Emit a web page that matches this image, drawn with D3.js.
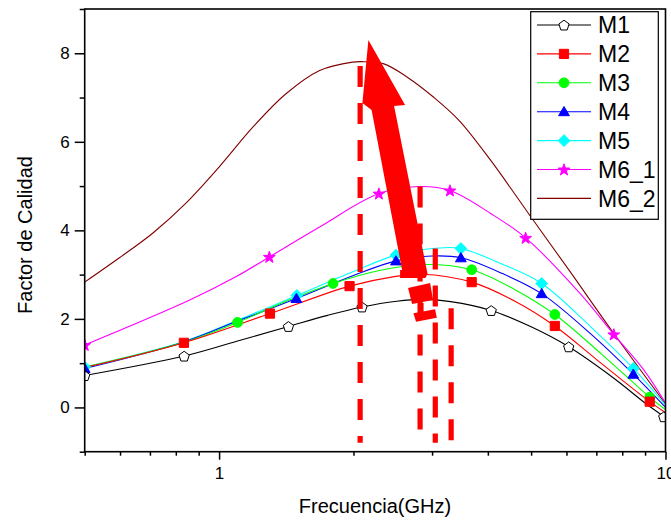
<!DOCTYPE html>
<html>
<head>
<meta charset="utf-8">
<script src="https://cdn.jsdelivr.net/npm/d3@7"></script>
<style>
  body { margin: 0; background: #fff; }
  svg { display: block; }
  text { font-family: "Liberation Sans", Arial, sans-serif; fill: #000; }
</style>
</head>
<body>
<svg id="chart" width="671" height="520"></svg>
<script>
// ---- Quality factor vs frequency (GHz), one curve per structure ----
const seriesNames = ["M1", "M2", "M3", "M4", "M5", "M6_1", "M6_2"];
const seriesColors = ["#000000", "#ff0000", "#00ff00", "#0000ff", "#00ffff", "#ff00ff", "#800000"];
const seriesSymbols = ["pentagon", "square", "circle", "triangle", "diamond", "star", "none"];

// curve samples: frequency (GHz) and quality factor
const m1Freq = [0.5, 0.835, 1.1, 1.43, 1.75, 2.09, 2.5, 2.85, 3.3, 4.07, 5.0, 6.07, 7.66, 9.0, 9.91, 10];
const m1Q    = [0.72, 1.16, 1.50, 1.83, 2.08, 2.27, 2.40, 2.44, 2.39, 2.19, 1.82, 1.37, 0.66, 0.10, -0.21, -0.25];
const m1Marks = [0, 1, 3, 5, 9, 11, 14];

const m2Freq = [0.5, 0.834, 1.30, 1.96, 2.45, 2.85, 3.68, 4.6, 5.65, 7.03, 9.22, 10];
const m2Q    = [0.90, 1.46, 2.12, 2.74, 2.95, 3.01, 2.83, 2.40, 1.84, 1.07, 0.13, -0.12];
const m2Marks = [1, 2, 3, 6, 8, 10];

const m3Freq = [0.5, 0.834, 1.10, 1.40, 1.80, 2.3, 2.9, 3.68, 4.6, 5.65, 7.2, 9.22, 10];
const m3Q    = [0.91, 1.47, 1.92, 2.38, 2.80, 3.10, 3.23, 3.11, 2.66, 2.10, 1.20, 0.23, -0.05];
const m3Marks = [2, 4, 7, 9, 11];

const m4Freq = [0.5, 0.834, 1.10, 1.49, 2.0, 2.49, 3.0, 3.48, 4.3, 5.28, 6.8, 8.47, 10];
const m4Q    = [0.88, 1.48, 1.95, 2.46, 2.98, 3.31, 3.42, 3.38, 3.03, 2.57, 1.66, 0.75, 0.0];
const m4Marks = [0, 3, 5, 7, 9, 11];

const m5Freq = [0.5, 0.834, 1.10, 1.494, 2.0, 2.49, 3.1, 3.48, 4.3, 5.28, 6.8, 8.47, 10];
const m5Q    = [0.91, 1.49, 1.97, 2.53, 3.07, 3.44, 3.60, 3.59, 3.24, 2.80, 1.82, 0.88, 0.05];
const m5Marks = [0, 3, 5, 7, 9, 11];

const m61Freq = [0.5, 0.857, 1.09, 1.296, 1.676, 2.28, 2.8, 3.29, 4.06, 4.86, 6.44, 7.66, 8.94, 10];
const m61Q    = [1.41, 2.42, 2.95, 3.40, 4.07, 4.83, 4.99, 4.90, 4.38, 3.83, 2.57, 1.65, 0.85, 0.10];
const m61Marks = [0, 3, 5, 7, 9, 11];

const m62Freq = [0.5, 0.598, 0.711, 0.844, 1.0, 1.19, 1.41, 1.68, 1.99, 2.10, 2.34, 2.64, 3.03, 3.45, 4.06, 4.91, 6.08, 7.66, 10];
const m62Q    = [2.83, 3.38, 3.94, 4.62, 5.43, 6.33, 7.08, 7.61, 7.80, 7.81, 7.76, 7.46, 7.00, 6.48, 5.58, 4.41, 3.10, 1.67, 0.08];
const m62Marks = [];

// axis ticks
const xMajorTicks = [1, 10];
const xMinorTicks = [0.5, 0.6, 0.7, 0.8, 0.9, 2, 3, 4, 5, 6, 7, 8, 9];
const yMajorTicks = [0, 2, 4, 6, 8];
const yMinorTicks = [-1, 1, 3, 5, 7, 9];

// peak guides (dashed) and the highlighting arrow, in data units
const guideFreq = [2.07, 2.82, 3.05, 3.31];
const guideTopQ = [7.71, 4.99, 3.59, 2.24];
const guideBottomQ = -0.80;
const arrowTip = [2.16, 8.30];

const freqs = [m1Freq, m2Freq, m3Freq, m4Freq, m5Freq, m61Freq, m62Freq];
const qs = [m1Q, m2Q, m3Q, m4Q, m5Q, m61Q, m62Q];
const marks = [m1Marks, m2Marks, m3Marks, m4Marks, m5Marks, m61Marks, m62Marks];

const series = seriesNames.map((name, i) => ({
  name,
  color: seriesColors[i],
  symbol: seriesSymbols[i],
  points: freqs[i].map((f, j) => ({ f, q: qs[i][j] })),
  marks: marks[i].map(j => ({ f: freqs[i][j], q: qs[i][j] }))
}));

const svg = d3.select("#chart");
const plotLeft = 84.7, plotRight = 665.5, plotTop = 9, plotBottom = 451.7;

const x = d3.scaleLog().domain([0.5, 10]).range([plotLeft, plotRight]);
const y = d3.scaleLinear().domain([-1, 9]).range([plotBottom, plotTop]);

svg.append("defs").append("clipPath").attr("id", "plotClip")
  .append("rect").attr("x", plotLeft).attr("y", plotTop)
  .attr("width", plotRight - plotLeft).attr("height", plotBottom - plotTop);

// marker shapes
function polygonPath(pts) {
  return "M" + pts.map(p => p[0].toFixed(2) + "," + p[1].toFixed(2)).join("L") + "Z";
}
function symbolPath(type) {
  if (type === "pentagon") {
    const r = 5.4;
    return polygonPath(d3.range(5).map(k => {
      const a = -Math.PI / 2 + k * 2 * Math.PI / 5;
      return [r * Math.cos(a), r * Math.sin(a) + 0.6];
    }));
  }
  if (type === "square") return polygonPath([[-4.6, -4.6], [4.6, -4.6], [4.6, 4.6], [-4.6, 4.6]]);
  if (type === "circle") return d3.symbol(d3.symbolCircle, Math.PI * 4.9 * 4.9)();
  if (type === "triangle") return polygonPath([[0, -5.2], [5.4, 4.0], [-5.4, 4.0]]);
  if (type === "diamond") return polygonPath([[0, -5.9], [5.9, 0], [0, 5.9], [-5.9, 0]]);
  if (type === "star") {
    const ro = 6.2, ri = 2.5;
    return polygonPath(d3.range(10).map(k => {
      const a = -Math.PI / 2 + k * Math.PI / 5;
      const r = k % 2 === 0 ? ro : ri;
      return [r * Math.cos(a), r * Math.sin(a) + 0.5];
    }));
  }
  return null;
}
function drawMarker(g, s, px, py) {
  const d = symbolPath(s.symbol);
  if (!d) return;
  g.append("path").attr("d", d)
    .attr("transform", `translate(${px},${py})`)
    .attr("fill", s.symbol === "pentagon" ? "#fff" : s.color)
    .attr("stroke", s.color)
    .attr("stroke-width", 1);
}

// curves
const plot = svg.append("g").attr("clip-path", "url(#plotClip)");
const line = d3.line().x(d => x(d.f)).y(d => y(d.q)).curve(d3.curveCatmullRom.alpha(0.5));

// draw from back (M6_2) to front (M1)
series.slice().reverse().forEach(s => {
  plot.append("path").datum(s.points)
    .attr("d", line)
    .attr("fill", "none")
    .attr("stroke", s.color)
    .attr("stroke-width", 1.1);
});
series.slice().reverse().forEach(s => {
  s.marks.forEach(m => drawMarker(plot, s, x(m.f), y(m.q)));
});

// dashed peak guides
const guides = svg.append("g");
guideFreq.forEach((f, i) => {
  guides.append("line")
    .attr("x1", x(f)).attr("x2", x(f))
    .attr("y1", y(guideTopQ[i])).attr("y2", y(guideBottomQ))
    .attr("stroke", "#ff0000")
    .attr("stroke-width", 5.2)
    .attr("stroke-dasharray", "21,16");
});

// arrow pointing up to the highest peak, with the broken base below it
const tx = x(arrowTip[0]), ty = y(arrowTip[1]);
const arrowOutline = [
  [0, 0], [36.7, 65], [25.7, 66], [59.2, 234], [57, 238], [31.7, 238],
  [31.7, 230], [33.7, 230], [3.2, 70], [-6, 63]
];
const baseBlockA = [[39.7, 248], [61.7, 243], [64.7, 260], [43.7, 264]];
const baseStem = [[51.2, 263], [55.2, 263], [55.2, 272], [51.2, 272]];
const baseBlockB = [[45, 273.3], [66.7, 269.3], [68.4, 277.7], [47.7, 281.7]];
const arrowG = svg.append("g").attr("transform", `translate(${tx},${ty})`).attr("fill", "#ff0000");
[arrowOutline, baseBlockA, baseStem, baseBlockB].forEach(p => {
  arrowG.append("path").attr("d", polygonPath(p));
});

// axes
const axisG = svg.append("g");
const xMajor = d3.axisBottom(x).tickValues(xMajorTicks).tickSize(8).tickPadding(7)
  .tickFormat(d3.format("d")).tickSizeOuter(0);
const xMinor = d3.axisBottom(x).tickValues(xMinorTicks).tickSize(4).tickFormat("").tickSizeOuter(0);
const yMajor = d3.axisLeft(y).tickValues(yMajorTicks).tickSize(10).tickPadding(5)
  .tickFormat(d3.format("d")).tickSizeOuter(0);
const yMinor = d3.axisLeft(y).tickValues(yMinorTicks).tickSize(5).tickFormat("").tickSizeOuter(0);

[[xMinor, "x"], [xMajor, "x"], [yMinor, "y"], [yMajor, "y"]].forEach(([ax, kind]) => {
  const g = axisG.append("g")
    .attr("transform", kind === "x" ? `translate(0,${plotBottom})` : `translate(${plotLeft},0)`)
    .call(ax);
  g.select(".domain").remove();
  g.selectAll("line").attr("stroke", "#000").attr("stroke-width", 1.5);
  g.selectAll("text").attr("font-size", 17).attr("fill", "#000")
    .attr("font-family", "Liberation Sans, Arial, sans-serif");
});

// frame
svg.append("rect")
  .attr("x", plotLeft).attr("y", plotTop)
  .attr("width", plotRight - plotLeft).attr("height", plotBottom - plotTop)
  .attr("fill", "none").attr("stroke", "#000").attr("stroke-width", 1.6);

// axis titles
svg.append("text")
  .attr("x", 375).attr("y", 513)
  .attr("text-anchor", "middle")
  .attr("font-size", 20)
  .text("Frecuencia(GHz)");
svg.append("text")
  .attr("transform", "translate(31.5,235) rotate(-90)")
  .attr("text-anchor", "middle")
  .attr("font-size", 20)
  .text("Factor de Calidad");

// legend
const legend = svg.append("g");
legend.append("rect")
  .attr("x", 530.7).attr("y", 11.7).attr("width", 127.6).attr("height", 207.6)
  .attr("fill", "#fff").attr("stroke", "#000").attr("stroke-width", 1.2);
series.forEach((s, i) => {
  const ly = 25 + i * 28.9;
  legend.append("line")
    .attr("x1", 537).attr("x2", 591).attr("y1", ly).attr("y2", ly)
    .attr("stroke", s.color).attr("stroke-width", 1.1);
  drawMarker(legend, s, 564, ly);
  legend.append("text")
    .attr("x", 598).attr("y", ly + 8.3)
    .attr("font-size", 23)
    .text(s.name);
});
</script>
</body>
</html>
